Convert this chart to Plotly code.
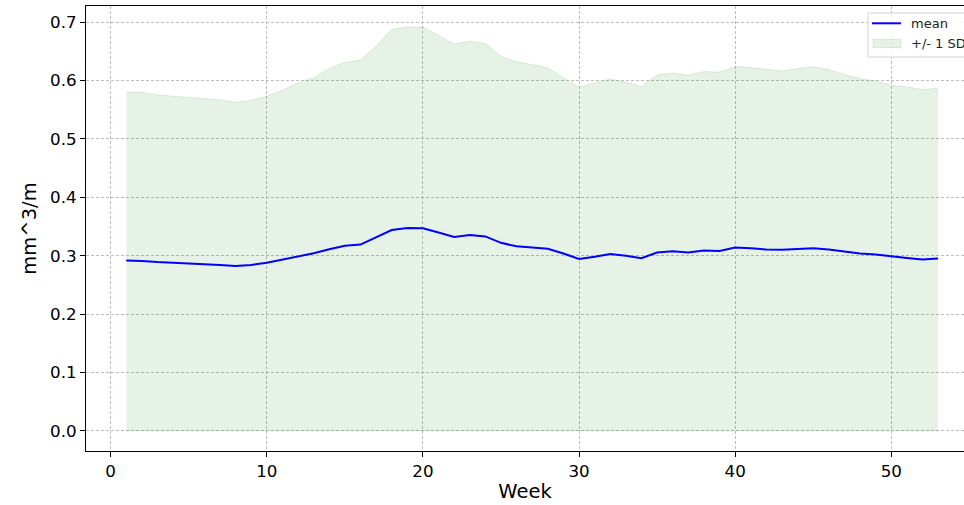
import plotly.graph_objects as go

# Weekly statistics
weeks = list(range(1, 54))
mean_vals = [
    0.2916, 0.2910, 0.2890, 0.2880, 0.2870, 0.2855, 0.2840, 0.2825, 0.2840, 0.2880,
    0.2930, 0.2990, 0.3040, 0.3110, 0.3170, 0.3190, 0.3310, 0.3440, 0.3476, 0.3470,
    0.3397, 0.3320, 0.3356, 0.3330, 0.3220, 0.3160, 0.3140, 0.3120, 0.3037, 0.2945,
    0.2980, 0.3030, 0.2997, 0.2957, 0.3054, 0.3077, 0.3054, 0.3090, 0.3080, 0.3140,
    0.3128, 0.3106, 0.3100, 0.3117, 0.3128, 0.3106, 0.3070, 0.3037, 0.3020, 0.2986,
    0.2962, 0.2935, 0.2950,
]
upper_vals = [
    0.5805, 0.5794, 0.5754, 0.5730, 0.5714, 0.5690, 0.5668, 0.5628, 0.5660, 0.5730,
    0.5834, 0.5960, 0.6045, 0.6205, 0.6310, 0.6348, 0.6588, 0.6873, 0.6918, 0.6918,
    0.6776, 0.6627, 0.6673, 0.6633, 0.6416, 0.6320, 0.6274, 0.6216, 0.6050, 0.5885,
    0.5960, 0.6027, 0.5970, 0.5900, 0.6096, 0.6130, 0.6090, 0.6154, 0.6140, 0.6240,
    0.6222, 0.6188, 0.6164, 0.6205, 0.6233, 0.6188, 0.6103, 0.6034, 0.5993, 0.5920,
    0.5890, 0.5846, 0.5868,
]
lower_vals = [0.0] * len(weeks)

x_ticks = [0, 10, 20, 30, 40, 50]
y_ticks = [0.0, 0.1, 0.2, 0.3, 0.4, 0.5, 0.6, 0.7]

# plot area in pixels
W, H = 964, 505
L, R, T, B = 86, 964, 6, 451


def px(xp):
    return (xp - L) / (R - L)


def py(yp):
    return (B - yp) / (B - T)


fig = go.Figure()

# +/- 1 SD band
fig.add_trace(go.Scatter(
    x=weeks, y=lower_vals, mode="lines",
    line=dict(color="rgba(0,128,0,0.12)", width=1),
    showlegend=False, hoverinfo="skip",
))
fig.add_trace(go.Scatter(
    x=weeks, y=upper_vals, mode="lines", fill="tonexty",
    fillcolor="rgba(0,128,0,0.1)",
    line=dict(color="rgba(0,128,0,0.12)", width=1),
    name="+/- 1 SD", showlegend=False,
))
# mean line
fig.add_trace(go.Scatter(
    x=weeks, y=mean_vals, mode="lines",
    line=dict(color="#0000ff", width=2),
    name="mean", showlegend=False,
))

# legend box drawn by hand
shapes = [
    dict(type="rect", xref="paper", yref="paper",
         x0=px(868), x1=px(1000), y0=py(57), y1=py(13),
         line=dict(color="#d4d4d4", width=1),
         fillcolor="rgba(255,255,255,0.85)", layer="above"),
    dict(type="line", xref="paper", yref="paper",
         x0=px(872), x1=px(901), y0=py(23.3), y1=py(23.3),
         line=dict(color="#0000ff", width=2), layer="above"),
    dict(type="rect", xref="paper", yref="paper",
         x0=px(873), x1=px(901), y0=py(47.7), y1=py(39.3),
         line=dict(color="rgba(0,128,0,0.12)", width=1),
         fillcolor="rgba(0,128,0,0.1)", layer="above"),
]
annotations = [
    dict(text="mean", xref="paper", yref="paper", x=px(909), y=py(23.5),
         xanchor="left", yanchor="middle", showarrow=False,
         font=dict(family="DejaVu Sans", size=13, color="#222")),
    dict(text="+/- 1 SD", xref="paper", yref="paper", x=px(909), y=py(43.5),
         xanchor="left", yanchor="middle", showarrow=False,
         font=dict(family="DejaVu Sans", size=13, color="#222")),
]

axis_common = dict(
    showgrid=True, gridcolor="#bdbdbd", griddash="3px,2px", gridwidth=1,
    zeroline=False, showline=True, linecolor="black", linewidth=1,
    ticks="outside", ticklen=5, tickcolor="black", tickwidth=1,
    tickfont=dict(family="DejaVu Sans", size=16.7, color="black"),
)

fig.update_layout(
    width=W, height=H,
    margin=dict(l=L, r=W - R, t=T, b=H - B),
    paper_bgcolor="white", plot_bgcolor="white",
    shapes=shapes, annotations=annotations,
    xaxis=dict(
        range=[-1.58, 54.66], tickvals=x_ticks, mirror=True,
        title=dict(text="Week", standoff=4,
                   font=dict(family="DejaVu Sans", size=19.5, color="black")),
        **axis_common,
    ),
    yaxis=dict(
        range=[-0.0346, 0.7277], tickvals=y_ticks, tickformat=".1f",
        title=dict(text="mm^3/m", standoff=8,
                   font=dict(family="DejaVu Sans", size=19.5, color="black")),
        **axis_common,
    ),
)

fig.write_html("out.html")
